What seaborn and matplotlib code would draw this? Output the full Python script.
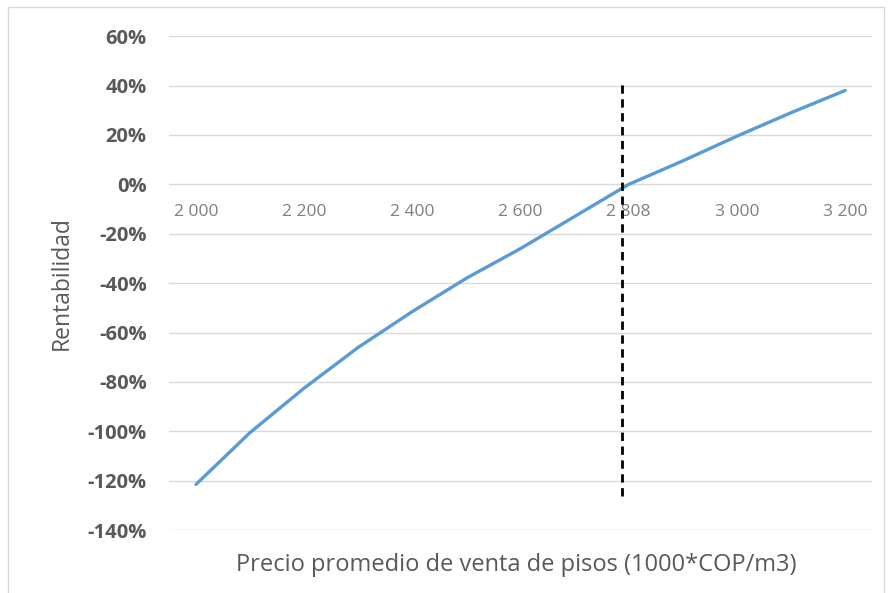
import matplotlib
matplotlib.use('Agg')
import matplotlib.pyplot as plt
from matplotlib.ticker import FuncFormatter, MultipleLocator
import numpy as np
import pandas as pd
import seaborn as sns

# precio promedio de venta (1000*COP/m3) y rentabilidad
precio = [2000, 2100, 2200, 2300, 2400, 2500, 2600, 2700, 2808, 2900, 3000, 3100, 3200]
rentabilidad = [-1.215, -1.005, -0.825, -0.66, -0.515, -0.38, -0.26, -0.13, 0.0,
                0.095, 0.195, 0.29, 0.38]
punto_equilibrio = 2808

df = pd.DataFrame({'precio': precio, 'rent': rentabilidad})
df['pos'] = np.arange(len(df))

sns.set_theme(style='white')
plt.rcParams['font.family'] = ['Open Sans', 'DejaVu Sans']

gray = '#595959'
fig = plt.figure(figsize=(8.89, 5.93), dpi=100)
ax = fig.add_axes([0.190, 0.106, 0.791, 0.833])

ax.set_ylim(-1.4, 0.6)
ax.set_xlim(-0.5, len(df) - 0.5)
ax.yaxis.set_major_locator(MultipleLocator(0.2))
ax.yaxis.set_major_formatter(FuncFormatter(lambda v, _: f'{v * 100:.0f}%'))
ax.grid(axis='y', color='#d9d9d9', linewidth=1)
ax.set_axisbelow(True)
for s in ax.spines.values():
    s.set_visible(False)

sns.lineplot(data=df, x='pos', y='rent', ax=ax, color='#5b9bd5', linewidth=2.4)

# linea vertical del punto de equilibrio
xe = df.loc[df.precio == punto_equilibrio, 'pos'].iloc[0] - 0.12
ax.vlines(xe, -1.26, 0.41, colors='black', linestyles=(0, (3, 2)), linewidth=2, zorder=5)

# etiquetas del eje x en la posicion y=0 (como en Excel)
ax.spines['bottom'].set_position(('data', 0))
ticks = df.pos[::2]
ax.set_xticks(ticks)
ax.set_xticklabels([f'{p:,}'.replace(',', ' ') for p in df.precio[::2]])
ax.tick_params(axis='x', length=0, pad=14, labelsize=12.5, labelcolor='#7f7f7f')
ax.tick_params(axis='y', length=0, pad=16, labelsize=14.5, labelcolor=gray)
for lb in ax.get_yticklabels():
    lb.set_fontweight('bold')

ax.set_xlabel('')
ax.set_ylabel('')
fig.text(0.069, 0.523, 'Rentabilidad', rotation=90, ha='center', va='center',
         fontsize=16.5, color=gray)
fig.text(0.581, 0.048, 'Precio promedio de venta de pisos (1000*COP/m3)',
         ha='center', va='center', fontsize=17, color=gray)

# marco del grafico
fig.patches.append(plt.Rectangle((0.009, -0.02), 0.985, 1.008, transform=fig.transFigure,
                                 fill=False, edgecolor='#d9d9d9', linewidth=1))

fig.savefig('out.png', dpi=100)
